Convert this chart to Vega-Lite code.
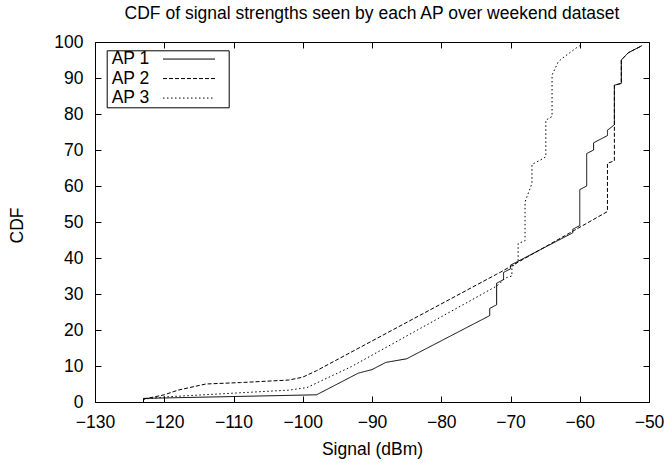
{
  "$schema": "https://vega.github.io/schema/vega-lite/v6.json",
  "width": 554,
  "height": 360,
  "autosize": "none",
  "padding": {"left": 95, "top": 42, "right": 15, "bottom": 61},
  "background": "white",
  "config": {
    "font": "Liberation Sans",
    "view": {"stroke": "black", "strokeWidth": 1},
    "axis": {"grid": false, "domain": false, "tickColor": "black", "tickWidth": 1, "labelColor": "black", "titleColor": "black", "labelFontSize": 17.5, "titleFontSize": 17.5, "titleFontWeight": "normal", "labelFlush": false, "labelOverlap": false}
  },
  "title": {
    "text": "CDF of signal strengths seen by each AP over weekend dataset",
    "fontSize": 17.5,
    "fontWeight": "normal",
    "color": "black",
    "anchor": "middle",
    "frame": "group",
    "baseline": "alphabetic",
    "offset": -3
  },
  "data": {
    "values": [
      {"ap": "AP 1", "i": 1, "signal": -123, "cdf": 0},
      {"ap": "AP 1", "i": 2, "signal": -123, "cdf": 1},
      {"ap": "AP 1", "i": 3, "signal": -98, "cdf": 2},
      {"ap": "AP 1", "i": 4, "signal": -92, "cdf": 8},
      {"ap": "AP 1", "i": 5, "signal": -90, "cdf": 9},
      {"ap": "AP 1", "i": 6, "signal": -88, "cdf": 11},
      {"ap": "AP 1", "i": 7, "signal": -85, "cdf": 12},
      {"ap": "AP 1", "i": 8, "signal": -73, "cdf": 24},
      {"ap": "AP 1", "i": 9, "signal": -73, "cdf": 26},
      {"ap": "AP 1", "i": 10, "signal": -72, "cdf": 27},
      {"ap": "AP 1", "i": 11, "signal": -72, "cdf": 33},
      {"ap": "AP 1", "i": 12, "signal": -71, "cdf": 34},
      {"ap": "AP 1", "i": 13, "signal": -71, "cdf": 36},
      {"ap": "AP 1", "i": 14, "signal": -70, "cdf": 37},
      {"ap": "AP 1", "i": 15, "signal": -70, "cdf": 38},
      {"ap": "AP 1", "i": 16, "signal": -61, "cdf": 47},
      {"ap": "AP 1", "i": 17, "signal": -61, "cdf": 48},
      {"ap": "AP 1", "i": 18, "signal": -60, "cdf": 49},
      {"ap": "AP 1", "i": 19, "signal": -60, "cdf": 59},
      {"ap": "AP 1", "i": 20, "signal": -59, "cdf": 60},
      {"ap": "AP 1", "i": 21, "signal": -59, "cdf": 69},
      {"ap": "AP 1", "i": 22, "signal": -58, "cdf": 70},
      {"ap": "AP 1", "i": 23, "signal": -58, "cdf": 72},
      {"ap": "AP 1", "i": 24, "signal": -56, "cdf": 74},
      {"ap": "AP 1", "i": 25, "signal": -56, "cdf": 75.5},
      {"ap": "AP 1", "i": 26, "signal": -55, "cdf": 77},
      {"ap": "AP 1", "i": 27, "signal": -55, "cdf": 88},
      {"ap": "AP 1", "i": 28, "signal": -54, "cdf": 88.5},
      {"ap": "AP 1", "i": 29, "signal": -54, "cdf": 95},
      {"ap": "AP 1", "i": 30, "signal": -53, "cdf": 97},
      {"ap": "AP 1", "i": 31, "signal": -51, "cdf": 99},
      {"ap": "AP 2", "i": 1, "signal": -123, "cdf": 0.8},
      {"ap": "AP 2", "i": 2, "signal": -120, "cdf": 2},
      {"ap": "AP 2", "i": 3, "signal": -118, "cdf": 3.3},
      {"ap": "AP 2", "i": 4, "signal": -114, "cdf": 5},
      {"ap": "AP 2", "i": 5, "signal": -109, "cdf": 5.4},
      {"ap": "AP 2", "i": 6, "signal": -102, "cdf": 6.1},
      {"ap": "AP 2", "i": 7, "signal": -100, "cdf": 6.9},
      {"ap": "AP 2", "i": 8, "signal": -98, "cdf": 8.7},
      {"ap": "AP 2", "i": 9, "signal": -72, "cdf": 35.5},
      {"ap": "AP 2", "i": 10, "signal": -71.5, "cdf": 36},
      {"ap": "AP 2", "i": 11, "signal": -56, "cdf": 52.9},
      {"ap": "AP 2", "i": 12, "signal": -56, "cdf": 66.3},
      {"ap": "AP 2", "i": 13, "signal": -55, "cdf": 67},
      {"ap": "AP 2", "i": 14, "signal": -55, "cdf": 88},
      {"ap": "AP 2", "i": 15, "signal": -54, "cdf": 88.5},
      {"ap": "AP 2", "i": 16, "signal": -54, "cdf": 95},
      {"ap": "AP 2", "i": 17, "signal": -53, "cdf": 97},
      {"ap": "AP 2", "i": 18, "signal": -51, "cdf": 99},
      {"ap": "AP 3", "i": 1, "signal": -123, "cdf": 0.8},
      {"ap": "AP 3", "i": 2, "signal": -120, "cdf": 1.4},
      {"ap": "AP 3", "i": 3, "signal": -102, "cdf": 3.3},
      {"ap": "AP 3", "i": 4, "signal": -99.4, "cdf": 4},
      {"ap": "AP 3", "i": 5, "signal": -93, "cdf": 9.8},
      {"ap": "AP 3", "i": 6, "signal": -72, "cdf": 32.2},
      {"ap": "AP 3", "i": 7, "signal": -71.5, "cdf": 33},
      {"ap": "AP 3", "i": 8, "signal": -70.8, "cdf": 34.4},
      {"ap": "AP 3", "i": 9, "signal": -69.8, "cdf": 35},
      {"ap": "AP 3", "i": 10, "signal": -69.8, "cdf": 37.5},
      {"ap": "AP 3", "i": 11, "signal": -68.9, "cdf": 39},
      {"ap": "AP 3", "i": 12, "signal": -68.9, "cdf": 44},
      {"ap": "AP 3", "i": 13, "signal": -67.9, "cdf": 44.8},
      {"ap": "AP 3", "i": 14, "signal": -67.9, "cdf": 55.6},
      {"ap": "AP 3", "i": 15, "signal": -66.9, "cdf": 60.7},
      {"ap": "AP 3", "i": 16, "signal": -66.9, "cdf": 66},
      {"ap": "AP 3", "i": 17, "signal": -65.7, "cdf": 67.2},
      {"ap": "AP 3", "i": 18, "signal": -64.9, "cdf": 68.1},
      {"ap": "AP 3", "i": 19, "signal": -64.9, "cdf": 78.3},
      {"ap": "AP 3", "i": 20, "signal": -64, "cdf": 79.3},
      {"ap": "AP 3", "i": 21, "signal": -64, "cdf": 90.8},
      {"ap": "AP 3", "i": 22, "signal": -63.1, "cdf": 94.5},
      {"ap": "AP 3", "i": 23, "signal": -62.5, "cdf": 95.5},
      {"ap": "AP 3", "i": 24, "signal": -60.4, "cdf": 98.5},
      {"ap": "AP 3", "i": 25, "signal": -60, "cdf": 99}
    ]
  },
  "layer": [
    {
      "mark": {"type": "line", "color": "black", "strokeWidth": 1},
      "encoding": {
        "x": {
          "field": "signal", "type": "quantitative",
          "scale": {"domain": [-130, -50], "nice": false, "zero": false},
          "axis": {
            "orient": "bottom",
            "values": [-130, -120, -110, -100, -90, -80, -70, -60, -50],
            "tickSize": -6,
            "labelPadding": 31,
            "labelBaseline": "alphabetic",
            "title": "Signal (dBm)",
            "titleX": 277,
            "titleY": 52,
            "titleBaseline": "alphabetic",
            "titleAlign": "center"
          }
        },
        "y": {
          "field": "cdf", "type": "quantitative",
          "scale": {"domain": [0, 100], "nice": false},
          "axis": {
            "orient": "left",
            "values": [0, 10, 20, 30, 40, 50, 60, 70, 80, 90, 100],
            "tickSize": -6,
            "labelPadding": 18,
            "labelBaseline": "middle",
            "title": "CDF",
            "titleX": -78,
            "titleY": 183,
            "titleAngle": -90,
            "titleAlign": "center",
            "titleBaseline": "middle"
          }
        },
        "strokeDash": {
          "field": "ap", "type": "nominal",
          "scale": {"domain": ["AP 1", "AP 2", "AP 3"], "range": [[1, 0], [4, 2], [1.5, 2.5]]},
          "legend": {
            "title": null,
            "orient": "none",
            "legendX": 11.7,
            "legendY": 8.3,
            "symbolType": "M9.51,0H19.91M22.25,0",
            "symbolSize": 100,
            "symbolStrokeWidth": 1,
            "symbolStrokeColor": "black",
            "labelFontSize": 17.5,
            "labelColor": "black",
            "strokeColor": "black",
            "fillColor": "white",
            "padding": 0,
            "labelOffset": -12.5,
            "symbolOffset": 0,
            "rowPadding": 0.5
          }
        },
        "order": {"field": "i", "type": "quantitative"}
      }
    },
    {
      "mark": {"type": "point", "opacity": 0},
      "encoding": {
        "x": {
          "field": "signal", "type": "quantitative",
          "axis": {"orient": "top", "values": [-130, -120, -110, -100, -90, -80, -70, -60, -50], "tickSize": -6, "labels": false, "title": null}
        },
        "y": {
          "field": "cdf", "type": "quantitative",
          "axis": {"orient": "right", "values": [0, 10, 20, 30, 40, 50, 60, 70, 80, 90, 100], "tickSize": -6, "labels": false, "title": null}
        }
      }
    }
  ],
  "resolve": {"axis": {"x": "independent", "y": "independent"}}
}
